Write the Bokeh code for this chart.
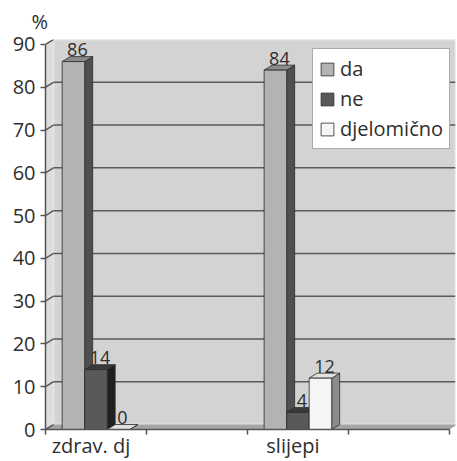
from bokeh.plotting import figure
from bokeh.models import Range1d, FixedTicker, Legend, LegendItem
from bokeh.embed import file_html
from bokeh.resources import INLINE
from bokeh.core.properties import value

# ---- data ----
categories = ["zdrav. dj", "", "slijepi", ""]
series_names = ["da", "ne", "djelomično"]
da = [86, 84]
ne = [14, 4]
djelomicno = [0, 12]
data_slots = [0, 2]
y_ticks = [0, 10, 20, 30, 40, 50, 60, 70, 80, 90]
y_unit = "%"

# ---- style ----
FONT = "Open Sans"
TXT = "#2e2e2e"
DX = 0.079
DY = 1.16
BAR_W = 0.223
BAR_START = 0.165
LABEL_POS = 0.45
X_END = 4.06
Y_END = 91.16
front_cols = ["#b3b3b3", "#595959", "#f5f5f5"]
side_cols = ["#4f4f4f", "#1f1f1f", "#8c8c8c"]
top_cols = ["#8c8c8c", "#3a3a3a", "#e2e2e2"]
EDGE = "#2b2b2b"

p = figure(width=457, height=461, x_range=Range1d(0, X_END), y_range=Range1d(0, Y_END),
           output_backend="svg", toolbar_location=None,
           min_border_left=45, min_border_right=2, min_border_top=38, min_border_bottom=31)
p.outline_line_color = None
p.xgrid.visible = False
p.ygrid.visible = False
p.background_fill_color = "white"

p.title.text = y_unit
p.title.align = "left"
p.title.offset = -14
p.title.standoff = 10
p.title.text_font = FONT
p.title.text_font_size = "20px"
p.title.text_font_style = "normal"
p.title.text_color = TXT

ymax = y_ticks[-1]
n_slots = len(categories)
# walls
p.patch(x=[0, DX, DX, 0], y=[0, DY, ymax + DY, ymax], fill_color="#dddddd", line_color=None)
p.quad(left=[DX], right=[X_END], bottom=[DY], top=[ymax + DY], fill_color="#d3d3d3",
       line_color="#e4e4e4", line_width=2)
p.patch(x=[0, n_slots, n_slots + DX, DX], y=[0, 0, DY, DY], fill_color="#a4a4a4", line_color=None)

# gridlines
gv = y_ticks[1:-1]
p.segment(x0=[DX] * len(gv), y0=[v + DY for v in gv], x1=[X_END] * len(gv), y1=[v + DY for v in gv],
          line_color="#5a5a5a", line_width=1.5)
p.segment(x0=[0] * len(y_ticks), y0=y_ticks, x1=[DX] * len(y_ticks), y1=[v + DY for v in y_ticks],
          line_color="#5a5a5a", line_width=1.5)

# bars
series_vals = [da, ne, djelomicno]
front_renderers = []
lx, ly, lt = [], [], []
for i, vals in enumerate(series_vals):
    x0 = [s + BAR_START + i * BAR_W for s in data_slots]
    x1 = [a + BAR_W for a in x0]
    side_xs = [[b, b + DX, b + DX, b] for b in x1]
    side_ys = [[0, DY, v + DY, v] for v in vals]
    top_xs = [[a, b, b + DX, a + DX] for a, b in zip(x0, x1)]
    top_ys = [[v, v, v + DY, v + DY] for v in vals]
    p.patches(xs=side_xs, ys=side_ys, fill_color=side_cols[i], line_color=EDGE, line_width=0.8)
    p.patches(xs=top_xs, ys=top_ys, fill_color=top_cols[i], line_color=EDGE, line_width=0.8)
    r = p.quad(left=x0, right=x1, bottom=[0] * len(vals), top=vals,
               fill_color=front_cols[i], line_color=EDGE, line_width=0.8)
    front_renderers.append(r)
    for a, v in zip(x0, vals):
        lx.append(a + BAR_W / 2 + DX / 2)
        ly.append(v + DY)
        lt.append(str(v))

p.text(x=lx, y=ly, text=lt, text_align="center", text_baseline="alphabetic", y_offset=-7,
       text_font=value(FONT), text_font_size="18px", text_color=TXT)

# legend
legend = Legend(items=[LegendItem(label=n, renderers=[r]) for n, r in zip(series_names, front_renderers)],
                location=(267, 280))
legend.label_text_font = FONT
legend.label_text_font_size = "20px"
legend.label_text_color = TXT
legend.glyph_width = 16
legend.glyph_height = 16
legend.label_standoff = 5
legend.padding = 6
legend.spacing = 3
legend.margin = 0
legend.border_line_color = "#555555"
legend.border_line_width = 1.5
legend.background_fill_color = "white"
legend.background_fill_alpha = 1
p.add_layout(legend)

# axes
p.yaxis.ticker = FixedTicker(ticks=y_ticks)
p.yaxis.bounds = (0, ymax)
p.yaxis.major_tick_out = 5
p.yaxis.major_tick_in = 0
p.yaxis.minor_tick_out = 0
p.yaxis.minor_tick_in = 0
p.yaxis.major_label_standoff = 5
p.yaxis.major_label_text_font = FONT
p.yaxis.major_label_text_font_size = "20px"
p.yaxis.major_label_text_color = TXT
p.yaxis.axis_line_color = "#555555"
p.yaxis.major_tick_line_color = "#555555"
p.yaxis.axis_line_width = 1.5
p.yaxis.major_tick_line_width = 1.5

label_ticks = [i + LABEL_POS for i, c in enumerate(categories) if c]
p.xaxis.ticker = FixedTicker(ticks=label_ticks, minor_ticks=list(range(n_slots + 1)))
p.xaxis.major_label_overrides = {i + LABEL_POS: c for i, c in enumerate(categories) if c}
p.xaxis.bounds = (0, n_slots)
p.xaxis.major_tick_line_color = None
p.xaxis.major_tick_out = 0
p.xaxis.major_tick_in = 0
p.xaxis.minor_tick_out = 5
p.xaxis.minor_tick_in = 0
p.xaxis.minor_tick_line_color = "#555555"
p.xaxis.minor_tick_line_width = 1.5
p.xaxis.axis_line_color = "#555555"
p.xaxis.axis_line_width = 1.5
p.xaxis.major_label_standoff = -3
p.xaxis.major_label_text_font = FONT
p.xaxis.major_label_text_font_size = "20px"
p.xaxis.major_label_text_color = TXT

open("out.html", "w").write(file_html(p, INLINE))
